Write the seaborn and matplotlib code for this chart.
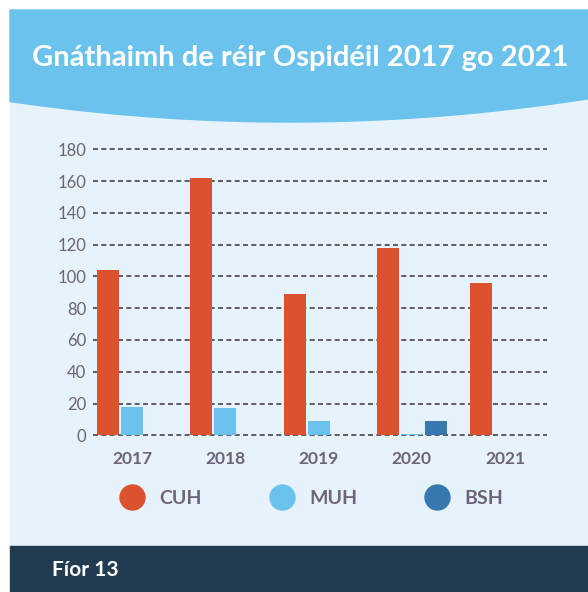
import numpy as np
import pandas as pd
import seaborn as sns
import matplotlib.pyplot as plt
from matplotlib.patches import Rectangle, Polygon
from matplotlib.lines import Line2D

years = ['2017', '2018', '2019', '2020', '2021']
hospitals = ['CUH', 'MUH', 'BSH']
cuh = [104, 162, 89, 118, 96]
muh = [18, 17, 9, 1, 0.5]
bsh = [0, 0, 0, 9, 0.5]
y_ticks = [0, 20, 40, 60, 80, 100, 120, 140, 160, 180]

title = 'Gnáthaimh de réir Ospidéil 2017 go 2021'
footer = 'Fíor 13'

colors = {'CUH': '#DD522E', 'MUH': '#6BC2EC', 'BSH': '#3878B0'}
text_grey = '#6E6378'

df = pd.DataFrame({
    'year': years * 3,
    'hospital': [h for h in hospitals for _ in years],
    'value': cuh + muh + bsh,
})

sns.set_style('white')
plt.rcParams['font.family'] = ['Lato', 'DejaVu Sans']

W, H = 588, 592
fig = plt.figure(figsize=(W / 100, H / 100), dpi=100)
fig.patch.set_facecolor('white')


def fx(px):
    return px / W


def fy(py):
    return 1 - py / H


# panel background, header band with curved bottom, footer band
fig.patches.append(Rectangle((fx(10), fy(546)), fx(578), 536 / H,
                             transform=fig.transFigure, color='#E6F2FC', zorder=-3))
xs = np.linspace(10, 588, 80)
curve = 122 - 22 * ((xs - 290) / 290) ** 2
pts = [(fx(10), fy(10))] + [(fx(x), fy(y)) for x, y in zip(xs, curve)] + [(fx(588), fy(10))]
fig.patches.append(Polygon(pts, closed=True, transform=fig.transFigure,
                           color='#6BC2EC', zorder=-2))
fig.patches.append(Rectangle((fx(10), 0), fx(578), 46 / H,
                             transform=fig.transFigure, color='#213B50', zorder=-2))

fig.text(fx(300), fy(58), title, color='white', fontsize=21, fontweight='bold',
         ha='center', va='center')
fig.text(fx(52), fy(570), footer, color='white', fontsize=15, fontweight='bold',
         ha='left', va='center')

ax = fig.add_axes([fx(93), fy(435.3), fx(454), 286 / H])
ax.set_zorder(2)
ax.set_facecolor('none')
sns.barplot(data=df, x='year', y='value', hue='hospital', hue_order=hospitals,
            palette=colors, saturation=1, width=0.77, gap=0.08, legend=False,
            linewidth=0, edgecolor='none', ax=ax)

ax.set_ylim(0, 180)
ax.set_xlim(-0.42, 4.45)
ax.set_yticks(y_ticks)
ax.set_xlabel('')
ax.set_ylabel('')
ax.set_axisbelow(True)
ax.yaxis.grid(True, linestyle=(0, (3, 2)), color='#45414E', linewidth=1.2)
for gl in ax.get_ygridlines():
    gl.set_clip_on(False)
ax.xaxis.grid(False)
for s in ax.spines.values():
    s.set_visible(False)
ax.tick_params(axis='y', length=0, pad=5, labelsize=12, labelcolor=text_grey)
ax.tick_params(axis='x', length=0, pad=11, labelsize=12.5, labelcolor=text_grey)
for lbl in ax.get_xticklabels():
    lbl.set_fontweight('bold')

handles = [Line2D([], [], marker='o', linestyle='', markersize=18,
                  markerfacecolor=colors[h], markeredgecolor=colors[h]) for h in hospitals]
leg = fig.legend(handles, hospitals, loc='center', bbox_to_anchor=(fx(308), fy(498)),
                 ncol=3, frameon=False, handletextpad=0.4, columnspacing=3.1,
                 prop={'size': 14, 'weight': 'bold'}, labelcolor=text_grey)
leg.set_zorder(3)

fig.savefig('out.png', dpi=100)
